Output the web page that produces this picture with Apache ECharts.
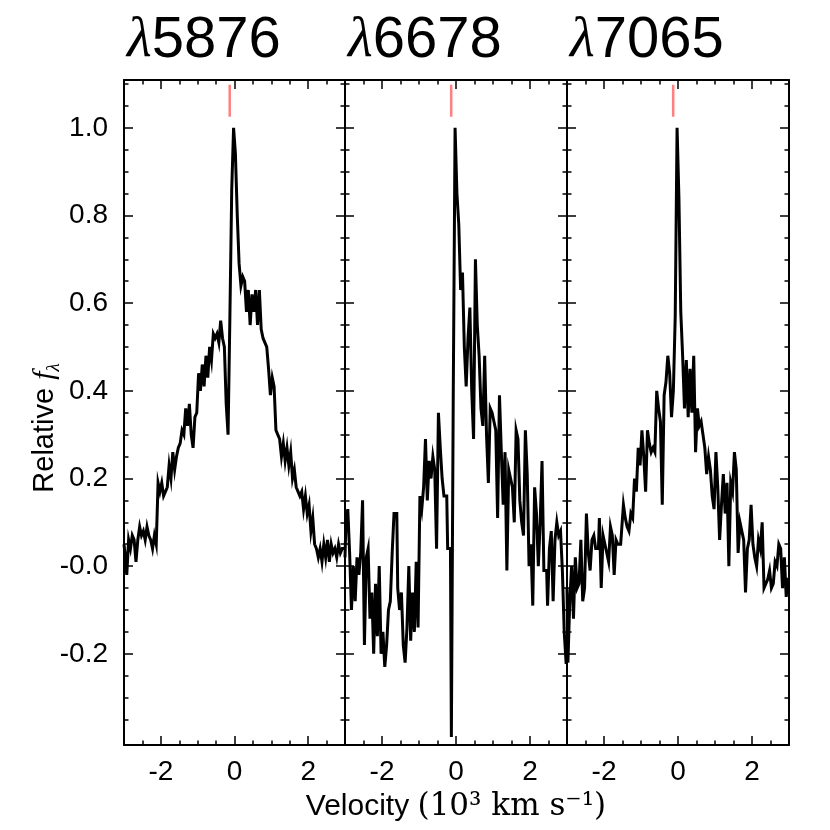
<!DOCTYPE html>
<html>
<head>
<meta charset="utf-8">
<script src="https://cdn.jsdelivr.net/npm/echarts@6/dist/echarts.min.js"></script>
<style>
  html, body { margin: 0; padding: 0; background: #fff; }
  #main { width: 830px; height: 830px; }
</style>
</head>
<body>
<div id="main"></div>
<script>
// velocity grid (10^3 km/s), shared by the three He I lines
const velocity = [
  -3.00, -2.95, -2.90, -2.85, -2.80, -2.75, -2.70, -2.65, -2.60, -2.55,
  -2.50, -2.45, -2.40, -2.35, -2.30, -2.25, -2.20, -2.15, -2.10, -2.05,
  -2.00, -1.95, -1.90, -1.85, -1.80, -1.75, -1.70, -1.65, -1.60, -1.55,
  -1.50, -1.45, -1.40, -1.35, -1.30, -1.25, -1.20, -1.15, -1.10, -1.05,
  -1.00, -0.95, -0.90, -0.85, -0.80, -0.75, -0.70, -0.65, -0.60, -0.55,
  -0.50, -0.45, -0.40, -0.35, -0.30, -0.25, -0.20, -0.15, -0.10, -0.05,
   0.00,  0.05,  0.10,  0.15,  0.20,  0.25,  0.30,  0.35,  0.40,  0.45,
   0.50,  0.55,  0.60,  0.65,  0.70,  0.75,  0.80,  0.85,  0.90,  0.95,
   1.00,  1.05,  1.10,  1.15,  1.20,  1.25,  1.30,  1.35,  1.40,  1.45,
   1.50,  1.55,  1.60,  1.65,  1.70,  1.75,  1.80,  1.85,  1.90,  1.95,
   2.00,  2.05,  2.10,  2.15,  2.20,  2.25,  2.30,  2.35,  2.40,  2.45,
   2.50,  2.55,  2.60,  2.65,  2.70,  2.75,  2.80,  2.85,  2.90,  2.95,
   3.00
];

// relative flux, lambda 5876
const flux5876 = [
  0.05, 0.03, -0.02, 0.06, 0.04, 0.07, 0.06, 0.01, 0.06, 0.09,
  0.07, 0.08, 0.06, 0.09, 0.07, 0.06, 0.04, 0.07, 0.05, 0.19,
  0.17, 0.19, 0.16, 0.17, 0.18, 0.23, 0.20, 0.26, 0.22, 0.25,
  0.27, 0.28, 0.31, 0.30, 0.36, 0.32, 0.37, 0.30, 0.27, 0.34,
  0.35, 0.44, 0.40, 0.46, 0.41, 0.48, 0.43, 0.50, 0.47, 0.53,
  0.52, 0.53, 0.51, 0.56, 0.52, 0.50, 0.37, 0.30, 0.57, 0.86,
  1.00, 0.94, 0.80, 0.69, 0.64, 0.66, 0.65, 0.58, 0.63, 0.55,
  0.62, 0.58, 0.63, 0.55, 0.63, 0.54, 0.52, 0.51, 0.50, 0.45,
  0.39, 0.43, 0.41, 0.31, 0.30, 0.29, 0.25, 0.28, 0.24, 0.27,
  0.23, 0.26, 0.20, 0.22, 0.18, 0.17, 0.16, 0.17, 0.13, 0.16,
  0.12, 0.14, 0.08, 0.11, 0.05, 0.04, 0.02, 0.04, 0.01, 0.05,
  0.02, 0.06, 0.01, 0.05, 0.03, 0.04, 0.02, 0.05, 0.03, 0.04,
  0.04
];

// relative flux, lambda 6678
const flux6678 = [
  0.02, 0.10, 0.13, 0.03, -0.10, 0.00, -0.08, 0.02, -0.02, 0.03,
  0.15, -0.18, 0.02, 0.04, -0.12, -0.06, -0.20, -0.04, -0.16, 0.00,
  -0.20, -0.15, -0.23, -0.18, -0.10, -0.08, 0.03, 0.12, 0.12, -0.05,
  -0.10, -0.06, -0.18, -0.22, -0.14, 0.00, -0.17, -0.06, -0.15, 0.01,
  -0.14, 0.16, 0.13, 0.18, 0.29, 0.15, 0.24, 0.20, 0.25, 0.22,
  0.04, 0.35, 0.27, 0.20, 0.16, 0.16, 0.04, 0.04, -0.39, 0.38,
  1.00, 0.85, 0.78, 0.63, 0.67, 0.50, 0.41, 0.52, 0.59, 0.40,
  0.29, 0.70, 0.55, 0.48, 0.36, 0.32, 0.48, 0.30, 0.19, 0.36,
  0.35, 0.33, 0.31, 0.11, 0.39, 0.26, 0.14, 0.26, -0.01, 0.22,
  0.20, 0.18, 0.10, 0.31, 0.29, 0.15, 0.10, 0.07, 0.31, 0.21,
  0.00, 0.05, -0.09, 0.18, 0.12, 0.00, 0.10, 0.24, -0.01, -0.01,
  -0.09, 0.04, 0.08, -0.08, 0.06, 0.10, 0.07, 0.08, -0.01, -0.15,
  -0.22
];

// relative flux, lambda 7065
const flux7065 = [
  -0.05, -0.22, -0.08, 0.00, -0.12, 0.02, -0.05, -0.04, 0.06, -0.08,
  -0.05, 0.12, 0.03, -0.01, 0.06, 0.07, 0.04, 0.04, 0.11, -0.05,
  0.07, 0.05, 0.03, 0.01, 0.09, 0.07, -0.02, 0.06, 0.05, 0.05,
  0.08, 0.14, 0.11, 0.09, 0.08, 0.12, 0.11, 0.20, 0.17, 0.27,
  0.23, 0.31, 0.25, 0.17, 0.31, 0.28, 0.26, 0.27, 0.26, 0.40,
  0.36, 0.33, 0.14, 0.39, 0.42, 0.48, 0.44, 0.34, 0.40, 0.57,
  1.00, 0.84, 0.58, 0.48, 0.36, 0.47, 0.34, 0.45, 0.35, 0.48,
  0.26, 0.36, 0.32, 0.33, 0.30, 0.27, 0.21, 0.25, 0.22, 0.16,
  0.13, 0.26, 0.18, 0.06, 0.14, 0.21, 0.12, 0.19, 0.00, 0.19,
  0.17, 0.26, 0.22, 0.03, 0.10, 0.08, 0.06, -0.06, 0.04, 0.06,
  0.14, 0.05, 0.02, 0.00, 0.06, 0.04, 0.10, -0.05, -0.04, -0.03,
  -0.01, -0.05, -0.04, 0.01, 0.00, 0.05, 0.04, -0.05, 0.02, -0.07,
  -0.03
];

const lineNames = ['5876', '6678', '7065'];
const fluxes = [flux5876, flux6678, flux7065];

// tick positions / labels
const xMajorTicks = [-2, 0, 2];
const xMinorTicks = [-2.5, -1.5, -1, -0.5, 0.5, 1, 1.5, 2.5];
const yMajorTicks = [-0.2, 0, 0.2, 0.4, 0.6, 0.8, 1.0];
const yTickLabels = ['-0.2', '-0.0', '0.2', '0.4', '0.6', '0.8', '1.0'];
const yMinorTicks = [-0.35, -0.3, -0.25, -0.15, -0.1, -0.05, 0.05, 0.1, 0.15,
  0.25, 0.3, 0.35, 0.45, 0.5, 0.55, 0.65, 0.7, 0.75, 0.85, 0.9, 0.95, 1.05, 1.1];

// rest-velocity marker (red tick at the top)
const markerVelocity = -0.13;
const markerFlux = [1.025, 1.098];

const X_MIN = -3, X_MAX = 3, Y_MIN = -0.408, Y_MAX = 1.109;
const gridLefts = [124, 345, 567];
const gridWidths = [221, 222, 222];
const FONT = "'Liberation Sans', Arial, Helvetica, sans-serif";

const chart = echarts.init(document.getElementById('main'));

const grids = [], xAxes = [], yAxes = [], series = [], graphics = [];

function xAxis(g, pos, ticks, len, withLine, withLabel) {
  return {
    type: 'value', gridIndex: g, position: pos, min: X_MIN, max: X_MAX,
    axisLine: { show: withLine, onZero: false, lineStyle: { color: '#000', width: 2 } },
    axisTick: { show: true, inside: true, length: len, customValues: ticks,
      lineStyle: { color: '#000', width: 1.5 } },
    axisLabel: { show: withLabel, customValues: xMajorTicks, margin: 13,
      fontSize: 28, fontFamily: FONT, color: '#000' },
    splitLine: { show: false }
  };
}

function yAxis(g, pos, ticks, len, withLine, withLabel) {
  return {
    type: 'value', gridIndex: g, position: pos, min: Y_MIN, max: Y_MAX,
    axisLine: { show: withLine, onZero: false, lineStyle: { color: '#000', width: 2 } },
    axisTick: { show: true, inside: true, length: len, customValues: ticks,
      lineStyle: { color: '#000', width: 1.5 } },
    axisLabel: { show: withLabel, customValues: yMajorTicks, margin: 16,
      fontSize: 28, fontFamily: FONT, color: '#000',
      formatter: function (v) {
        const k = yMajorTicks.findIndex(t => Math.abs(t - v) < 1e-6);
        return k >= 0 ? yTickLabels[k] : '';
      } },
    splitLine: { show: false }
  };
}

for (let i = 0; i < 3; i++) {
  grids.push({ left: gridLefts[i], top: 80, width: gridWidths[i], height: 665,
    containLabel: false, outerBoundsMode: 'none' });

  const xi = xAxes.length;
  xAxes.push(xAxis(i, 'bottom', xMajorTicks, 9, true, true));
  xAxes.push(xAxis(i, 'bottom', xMinorTicks, 4.5, false, false));
  xAxes.push(xAxis(i, 'top', xMajorTicks, 9, true, false));
  xAxes.push(xAxis(i, 'top', xMinorTicks, 4.5, false, false));

  const yi = yAxes.length;
  yAxes.push(yAxis(i, 'left', yMajorTicks, 9, true, i === 0));
  yAxes.push(yAxis(i, 'left', yMinorTicks, 4.5, false, false));
  yAxes.push(yAxis(i, 'right', yMajorTicks, 9, true, false));
  yAxes.push(yAxis(i, 'right', yMinorTicks, 4.5, false, false));

  series.push({
    type: 'line', xAxisIndex: xi, yAxisIndex: yi, step: 'middle',
    showSymbol: false, silent: true, clip: true,
    lineStyle: { color: '#000', width: 3, join: 'miter' },
    data: velocity.map((v, k) => [v, fluxes[i][k]])
  });
  series.push({
    type: 'line', xAxisIndex: xi, yAxisIndex: yi,
    showSymbol: false, silent: true,
    lineStyle: { color: '#ff8080', width: 2.5 },
    data: markerFlux.map(f => [markerVelocity, f])
  });

  graphics.push({
    type: 'text', x: gridLefts[i] + 3, y: 41,
    style: {
      text: '{l|λ}' + lineNames[i],
      fontSize: 58, fontFamily: FONT, fill: '#000',
      align: 'left', verticalAlign: 'middle',
      rich: { l: { fontSize: 57, fontFamily: "'Liberation Serif', serif", fontStyle: 'italic' } }
    }
  });
}

graphics.push({
  type: 'text', x: 45, y: 428, rotation: Math.PI / 2,
  style: {
    text: 'Relative {f|f}{s|λ}',
    fontSize: 29, fontFamily: FONT, fill: '#000',
    align: 'center', verticalAlign: 'middle',
    rich: {
      f: { fontSize: 30, fontFamily: "'Liberation Serif', serif", fontStyle: 'italic', lineHeight: 36, verticalAlign: 'middle' },
      s: { fontSize: 19, fontFamily: "'Liberation Serif', serif", fontStyle: 'italic', lineHeight: 36, verticalAlign: 'bottom' }
    }
  }
});

graphics.push({
  type: 'text', x: 456, y: 807,
  style: {
    text: 'Velocity {m|(10³ km s⁻¹)}',
    fontSize: 30, fontFamily: FONT, fill: '#000',
    align: 'center', verticalAlign: 'middle',
    rich: { m: { fontSize: 31, fontFamily: "'DejaVu Serif', serif" } }
  }
});

chart.setOption({
  animation: false,
  backgroundColor: '#fff',
  grid: grids,
  xAxis: xAxes,
  yAxis: yAxes,
  series: series,
  graphic: graphics
});

window.onresize = function () {
  chart.resize();
};
</script>
</body>
</html>
